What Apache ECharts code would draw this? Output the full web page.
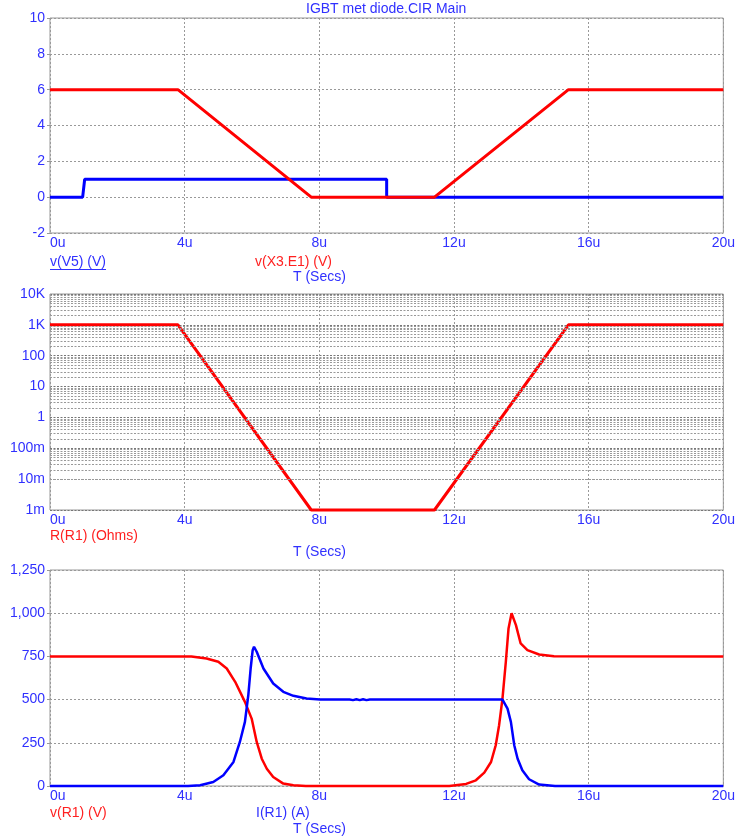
<!DOCTYPE html>
<html>
<head>
	<meta charset="utf-8">
	<title>IGBT met diode</title>
</head>

<body style="margin:0;background:#fff;">
	<div style="width:738px;height:837px;" id="chart1"></div>

	<script src="https://cdn.jsdelivr.net/npm/echarts@6/dist/echarts.min.js"></script>
	<script>
	// tijd in microseconden
	var v5T  = [0, 0.97, 1.03, 10.0, 10.0, 20];
	var v5V  = [0, 0, 1, 1, 0, 0];
	var x3T  = [0, 3.8, 7.76, 11.42, 15.4, 20];
	var x3V  = [6, 6, 0, 0, 6, 6];

	var r1T  = [0, 3.8, 7.76, 11.42, 15.4, 20];
	var r1V  = [1000, 1000, 0.001, 0.001, 1000, 1000];

	var vr1T = [0, 4.2, 4.65, 5.0, 5.25, 5.5, 5.79, 5.99, 6.14, 6.29, 6.44, 6.63, 6.93, 7.23, 7.6,
	            11.86, 12.36, 12.65, 12.9, 13.1, 13.24, 13.34, 13.44, 13.54, 13.62, 13.71, 13.84, 13.98, 14.18, 14.53, 14.97, 20];
	var vr1V = [750, 750, 738, 719, 680, 603, 487, 390, 255, 158, 100, 52, 14, 4, 0,
	            0, 12, 33, 77, 139, 236, 352, 506, 719, 912, 1000, 931, 825, 786, 761, 751, 750];

	var ir1T = [0, 4.1, 4.46, 4.85, 5.15, 5.45, 5.64, 5.79, 5.89, 5.96, 6.02, 6.06, 6.14, 6.34, 6.63, 6.93, 7.23, 7.62, 8.02,
	            8.9, 9.0, 9.1, 9.2, 9.3, 9.4, 9.5, 13.44, 13.59, 13.69, 13.79, 13.89, 14.03, 14.23, 14.53, 15.0, 20];
	var ir1V = [0, 0, 4, 23, 62, 139, 255, 371, 525, 680, 786, 806, 777, 680, 593, 545, 522, 506, 500,
	            500, 497, 502, 497, 502, 497, 500, 500, 448, 371, 236, 158, 91, 39, 8, 0, 0];

	var logLabels = {'-3': '1m', '-2': '10m', '-1': '100m', '0': '1', '1': '10', '2': '100', '3': '1K', '4': '10K'};

	function zip(t, v) {
		var out = [];
		for (var i = 0; i < t.length; i++) out.push([t[i], v[i]]);
		return out;
	}

	var blue = '#0000ff', red = '#ff0000', lblBlue = '#3030ff', lblRed = '#ff2020';
	var font = '"Liberation Sans", Arial, sans-serif';
	var fs = 14;
	var gridLine = { show: true, lineStyle: { color: '#999', type: [2, 2], width: 1 } };

	function xAxis(idx) {
		return {
			type: 'value', gridIndex: idx, min: 0, max: 20, interval: 4,
			axisLine: { show: false }, axisTick: { show: false },
			axisLabel: { color: lblBlue, fontFamily: font, fontSize: fs, margin: 3,
				alignMinLabel: 'left', formatter: function (v) { return v + 'u'; } },
			splitLine: gridLine
		};
	}

	function yLabel(fmt) {
		return { color: lblBlue, fontFamily: font, fontSize: fs, margin: 5, formatter: fmt };
	}

	function txt(x, y, s, c) {
		return { type: 'text', x: x, y: y, style: { text: s, fill: c, font: fs + 'px ' + font } };
	}

	// log hulplijnen 2..9 per decade
	var minor = [];
	for (var e = -3; e < 4; e++) {
		for (var k = 2; k <= 9; k++) minor.push({ yAxis: k * Math.pow(10, e) });
	}

	var myChart = echarts.init(document.getElementById('chart1'));

	var option = {
		animation: false,
		grid: [
			{ left: 50, top: 18, width: 674, height: 215, show: true, borderColor: '#999', borderWidth: 1 },
			{ left: 50, top: 294, width: 674, height: 216, show: true, borderColor: '#999', borderWidth: 1 },
			{ left: 50, top: 570, width: 674, height: 216, show: true, borderColor: '#999', borderWidth: 1 }
		],
		xAxis: [xAxis(0), xAxis(1), xAxis(2)],
		yAxis: [
			{ type: 'value', gridIndex: 0, min: -2, max: 10, interval: 2,
			  axisLine: { show: false }, axisTick: { show: true, length: 3, lineStyle: { color: '#999' } },
			  axisLabel: yLabel(function (v) { return String(v); }), splitLine: gridLine },
			{ type: 'log', gridIndex: 1, min: 0.001, max: 10000, logBase: 10,
			  axisLine: { show: false }, axisTick: { show: false },
			  axisLabel: yLabel(function (v) { return logLabels[String(Math.round(Math.log10(v)))]; }),
			  splitLine: { show: true, lineStyle: { color: '#777', type: [2, 1.5], width: 1 } } },
			{ type: 'value', gridIndex: 2, min: 0, max: 1250, interval: 250,
			  axisLine: { show: false }, axisTick: { show: true, length: 3, lineStyle: { color: '#999' } },
			  axisLabel: yLabel(function (v) { return v.toLocaleString('en-US'); }), splitLine: gridLine }
		],
		graphic: [
			txt(306, 2, 'IGBT met diode.CIR Main', lblBlue),
			txt(50, 255, 'v(V5) (V)', lblBlue),
			{ type: 'line', shape: { x1: 50, y1: 269.5, x2: 106, y2: 269.5 }, style: { stroke: lblBlue, lineWidth: 1 } },
			txt(255, 255, 'v(X3.E1) (V)', lblRed),
			txt(293, 270, 'T (Secs)', lblBlue),
			txt(50, 529, 'R(R1) (Ohms)', lblRed),
			txt(293, 545, 'T (Secs)', lblBlue),
			txt(50, 806, 'v(R1) (V)', lblRed),
			txt(256, 806, 'I(R1) (A)', lblBlue),
			txt(293, 822, 'T (Secs)', lblBlue)
		],
		series: [
			{ name: 'v(V5)', type: 'line', xAxisIndex: 0, yAxisIndex: 0, data: zip(v5T, v5V),
			  showSymbol: false, lineStyle: { color: blue, width: 3 } },
			{ name: 'v(X3.E1)', type: 'line', xAxisIndex: 0, yAxisIndex: 0, data: zip(x3T, x3V),
			  showSymbol: false, lineStyle: { color: red, width: 3 } },
			{ name: 'minor', type: 'line', xAxisIndex: 1, yAxisIndex: 1, data: [], z: 1, silent: true,
			  markLine: { silent: true, symbol: 'none', label: { show: false }, animation: false,
			  lineStyle: { color: '#999', type: [2, 1.5], width: 1 }, data: minor } },
			{ name: 'R(R1)', type: 'line', xAxisIndex: 1, yAxisIndex: 1, data: zip(r1T, r1V), clip: false,
			  showSymbol: false, lineStyle: { color: red, width: 3 }, z: 3 },
			{ name: 'v(R1)', type: 'line', xAxisIndex: 2, yAxisIndex: 2, data: zip(vr1T, vr1V), clip: false,
			  showSymbol: false, lineStyle: { color: red, width: 2.5 } },
			{ name: 'I(R1)', type: 'line', xAxisIndex: 2, yAxisIndex: 2, data: zip(ir1T, ir1V), clip: false,
			  showSymbol: false, lineStyle: { color: blue, width: 2.5 } }
		]
	};

	myChart.setOption(option);
	</script>
</body>

</html>
